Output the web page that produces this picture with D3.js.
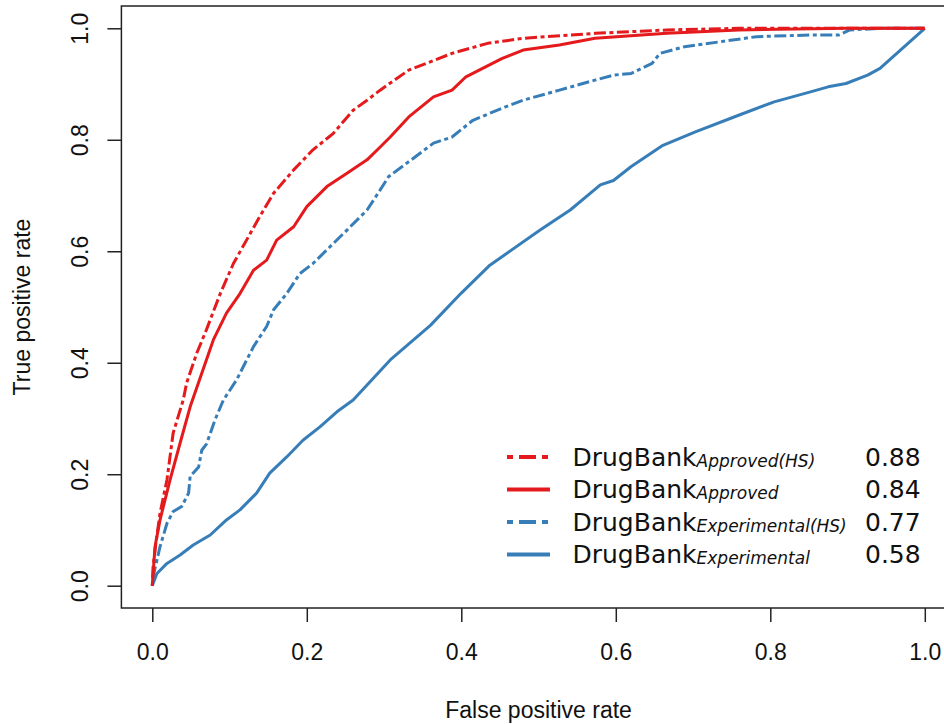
<!DOCTYPE html>
<html><head><meta charset="utf-8">
<script src="https://cdn.jsdelivr.net/npm/d3@7"></script>
<style>body{margin:0;background:#fff}svg{display:block}</style>
</head><body>
<svg id="chart" width="944" height="724"></svg>
<script>
// ---- data ----
const seriesNames = ["Approved(HS)", "Approved", "Experimental(HS)", "Experimental"];
const seriesAUC = ["0.88", "0.84", "0.77", "0.58"];
const xTicks = [0, 0.2, 0.4, 0.6, 0.8, 1.0];
const yTicks = [0, 0.2, 0.4, 0.6, 0.8, 1.0];

const approvedHS = [[0,0],[0.001,0.034],[0.005,0.08],[0.010,0.130],[0.019,0.190],[0.027,0.274],[0.040,0.333],[0.0445,0.364],[0.0575,0.417],[0.070,0.459],[0.088,0.524],[0.105,0.578],[0.122,0.620],[0.139,0.662],[0.157,0.704],[0.183,0.746],[0.208,0.782],[0.234,0.811],[0.260,0.853],[0.278,0.871],[0.295,0.889],[0.332,0.925],[0.388,0.955],[0.434,0.973],[0.480,0.982],[0.573,0.991],[0.666,0.997],[0.759,1.0],[1,1]];
const approved = [[0,0],[0.0035,0.07],[0.010,0.118],[0.023,0.190],[0.036,0.256],[0.049,0.321],[0.061,0.369],[0.079,0.441],[0.096,0.489],[0.1135,0.524],[0.131,0.566],[0.148,0.584],[0.161,0.620],[0.183,0.644],[0.200,0.680],[0.226,0.716],[0.252,0.740],[0.278,0.764],[0.295,0.787],[0.308,0.805],[0.332,0.841],[0.364,0.877],[0.388,0.889],[0.406,0.913],[0.453,0.946],[0.480,0.961],[0.527,0.970],[0.573,0.982],[0.666,0.991],[0.759,0.997],[0.898,1.0],[1,1]];
const experimentalHS = [[0,0],[0.001,0.016],[0.010,0.070],[0.019,0.112],[0.027,0.133],[0.038,0.142],[0.047,0.166],[0.049,0.196],[0.060,0.213],[0.064,0.243],[0.0705,0.255],[0.081,0.297],[0.092,0.333],[0.109,0.369],[0.131,0.429],[0.148,0.465],[0.157,0.495],[0.174,0.524],[0.191,0.560],[0.208,0.578],[0.230,0.608],[0.252,0.638],[0.278,0.674],[0.295,0.710],[0.306,0.734],[0.341,0.770],[0.364,0.794],[0.388,0.805],[0.415,0.835],[0.457,0.859],[0.480,0.871],[0.527,0.889],[0.573,0.907],[0.597,0.916],[0.620,0.919],[0.647,0.937],[0.657,0.955],[0.689,0.967],[0.736,0.976],[0.782,0.985],[0.852,0.988],[0.889,0.988],[0.903,0.997],[0.945,1.0],[1,1]];
const experimental = [[0,0],[0.006,0.022],[0.019,0.040],[0.036,0.055],[0.053,0.073],[0.075,0.091],[0.096,0.118],[0.1135,0.136],[0.135,0.166],[0.152,0.202],[0.174,0.231],[0.195,0.261],[0.217,0.285],[0.239,0.312],[0.26,0.333],[0.308,0.405],[0.36,0.467],[0.40,0.525],[0.437,0.575],[0.502,0.638],[0.541,0.674],[0.58,0.719],[0.597,0.727],[0.620,0.752],[0.661,0.790],[0.703,0.814],[0.759,0.844],[0.805,0.868],[0.852,0.886],[0.875,0.895],[0.898,0.901],[0.926,0.916],[0.942,0.928],[1,1]];

const seriesData = [approvedHS, approved, experimentalHS, experimental];

// ---- styles ----
const RED = "#E41A1C", BLUE = "#377EB8";
const colors = [RED, RED, BLUE, BLUE];
const dashes = ["4,3.5,12,3.5", null, "4,3.5,12,3.5", null];
const legendDashes = ["6,6,17,6", null, "6,6,17,6", null];

const svg = d3.select("#chart");
const x = d3.scaleLinear().domain([-0.04, 1.04]).range([121.4, 955.7]);
const y = d3.scaleLinear().domain([-0.04, 1.04]).range([608, 6]);

const axisFont = "'Liberation Sans', Arial, Helvetica, sans-serif";

// box
svg.append("rect")
  .attr("x", x(-0.04)).attr("y", y(1.04))
  .attr("width", x(1.04) - x(-0.04)).attr("height", y(-0.04) - y(1.04))
  .attr("fill", "none").attr("stroke", "#222").attr("stroke-width", 1.5);

// x axis
const xAxis = d3.axisBottom(x).tickValues(xTicks).tickSize(14).tickSizeOuter(0).tickFormat(d3.format(".1f"));
const gx = svg.append("g").attr("transform", `translate(0,${y(-0.04)})`).call(xAxis);
gx.select(".domain").remove();
gx.selectAll(".tick line").attr("stroke", "#222").attr("stroke-width", 1.5);
gx.selectAll(".tick text").attr("font-family", axisFont).attr("font-size", 23).attr("fill", "#111")
  .attr("y", 52).attr("dy", 0);

// y axis
const yAxis = d3.axisLeft(y).tickValues(yTicks).tickSize(14).tickSizeOuter(0).tickFormat(d3.format(".1f"));
const gy = svg.append("g").attr("transform", `translate(${x(-0.04)},0)`).call(yAxis);
gy.select(".domain").remove();
gy.selectAll(".tick line").attr("stroke", "#222").attr("stroke-width", 1.5);
gy.selectAll(".tick text").attr("font-family", axisFont).attr("font-size", 23).attr("fill", "#111")
  .attr("x", 0).attr("dy", 0).attr("text-anchor", "middle")
  .attr("transform", "translate(-33.5,0) rotate(-90)");

// axis titles
svg.append("text").attr("x", (x(-0.04) + x(1.04)) / 2).attr("y", 718)
  .attr("text-anchor", "middle").attr("font-family", axisFont).attr("font-size", 23).attr("fill", "#111")
  .text("False positive rate");
svg.append("text").attr("transform", `translate(30,${(y(-0.04) + y(1.04)) / 2}) rotate(-90)`)
  .attr("text-anchor", "middle").attr("font-family", axisFont).attr("font-size", 23).attr("fill", "#111")
  .text("True positive rate");

// curves
const line = d3.line().x(d => x(d[0])).y(d => y(d[1]));
const order = [3, 2, 1, 0];
order.forEach(i => {
  svg.append("path").datum(seriesData[i])
    .attr("d", line).attr("fill", "none")
    .attr("stroke", colors[i]).attr("stroke-width", 3)
    .attr("stroke-linejoin", "round")
    .attr("stroke-dasharray", dashes[i]);
});

// legend
const legendFont = "'DejaVu Sans', sans-serif";
const legY = [457, 489.5, 522, 554.5];
seriesNames.forEach((name, i) => {
  const ly = legY[i];
  svg.append("line").attr("x1", 507).attr("x2", 550).attr("y1", ly).attr("y2", ly)
    .attr("stroke", colors[i]).attr("stroke-width", 4)
    .attr("stroke-dasharray", legendDashes[i]);
  const t = svg.append("text").attr("x", 572.5).attr("y", ly + 8.5)
    .attr("font-family", legendFont).attr("font-size", 25).attr("fill", "#111");
  t.append("tspan").text("DrugBank");
  t.append("tspan").attr("font-size", 17).attr("font-style", "italic").attr("dy", 1).text(name);
  svg.append("text").attr("x", 865).attr("y", ly + 8.5)
    .attr("font-family", legendFont).attr("font-size", 25).attr("fill", "#111")
    .text(seriesAUC[i]);
});
</script>
</body></html>
